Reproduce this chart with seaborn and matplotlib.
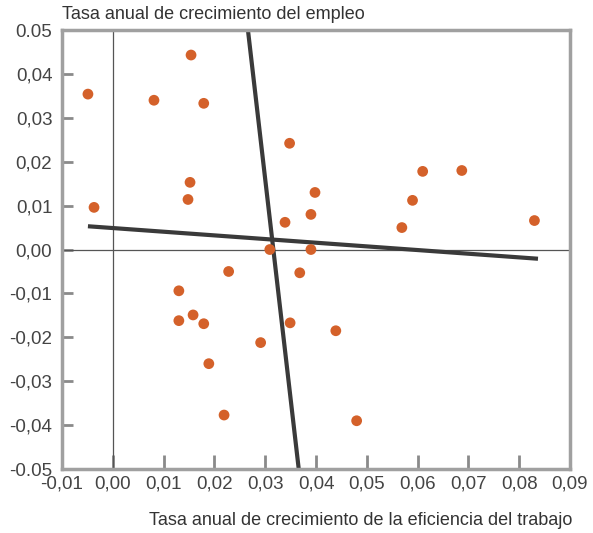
import matplotlib
matplotlib.use("Agg")
import matplotlib.pyplot as plt
import seaborn as sns
import pandas as pd

# Data
eficiencia = [-0.0049, -0.0037, 0.0081, 0.0154, 0.0179, 0.0152, 0.0148, 0.0348, 0.0339, 0.0309,
              0.0610, 0.0687, 0.0398, 0.0390, 0.0590, 0.0569, 0.0830, 0.0390, 0.0228, 0.0368,
              0.0130, 0.0130, 0.0158, 0.0179, 0.0189, 0.0219, 0.0291, 0.0349, 0.0439, 0.0480]
empleo = [0.0354, 0.0096, 0.0340, 0.0443, 0.0333, 0.0153, 0.0114, 0.0242, 0.0062, 0.0000,
          0.0178, 0.0180, 0.0130, 0.0080, 0.0112, 0.0050, 0.0066, 0.0000, -0.0050, -0.0053,
          -0.0094, -0.0162, -0.0149, -0.0169, -0.0260, -0.0377, -0.0212, -0.0167, -0.0185, -0.0390]

line1_x = [-0.0049, 0.0837]
line1_y = [0.0053, -0.0021]
line2_x = [0.0266, 0.0366]
line2_y = [0.0500, -0.0500]

xticks = [-0.01, 0.00, 0.01, 0.02, 0.03, 0.04, 0.05, 0.06, 0.07, 0.08, 0.09]
xticklabels = ["-0,01", "0,00", "0,01", "0,02", "0,03", "0,04", "0,05", "0,06", "0,07", "0,08", "0,09"]
yticks = [-0.05, -0.04, -0.03, -0.02, -0.01, 0.00, 0.01, 0.02, 0.03, 0.04, 0.05]
yticklabels = ["-0.05", "-0,04", "-0,03", "-0,02", "-0,01", "0,00", "0,01", "0,02", "0,03", "0,04", "0.05"]

sns.set_style("white")
plt.rcParams['font.family'] = ['Liberation Sans', 'DejaVu Sans']

fig = plt.figure(figsize=(5.93, 5.33), dpi=100)
ax = fig.add_axes([0.1046, 0.120, 0.8566, 0.8237])

df = pd.DataFrame({"x": eficiencia, "y": empleo})

ax.axhline(0, color="#555555", lw=0.9, zorder=1)
ax.axvline(0, color="#555555", lw=0.9, zorder=1)
ax.plot(line1_x, line1_y, color="#3a3a3a", lw=3, solid_capstyle="butt", zorder=2)
ax.plot(line2_x, line2_y, color="#3a3a3a", lw=3, solid_capstyle="butt", zorder=2)
sns.scatterplot(data=df, x="x", y="y", ax=ax, color="#d4612a", s=60, edgecolor="none", zorder=3)

ax.set_xlim(-0.01, 0.09)
ax.set_ylim(-0.05, 0.05)
ax.set_xticks(xticks)
ax.set_xticklabels(xticklabels)
ax.set_yticks(yticks)
ax.set_yticklabels(yticklabels)
ax.set_xlabel("")
ax.set_ylabel("")

for s in ax.spines.values():
    s.set_visible(True)
    s.set_color("#a0a0a0")
    s.set_linewidth(2.5)

ax.tick_params(axis="x", direction="in", length=10, width=2, color="#8a8a8a",
               labelsize=13.5, labelcolor="#444444", pad=5, bottom=True)
ax.tick_params(axis="y", direction="in", length=8, width=2, color="#8a8a8a",
               labelsize=13.5, labelcolor="#444444", pad=7, left=True)

fig.text(0.1046, 0.972, "Tasa anual de crecimiento del empleo", fontsize=13,
         color="#333333", ha="left", va="center")
fig.text(0.965, 0.024, "Tasa anual de crecimiento de la eficiencia del trabajo", fontsize=13,
         color="#333333", ha="right", va="center")

fig.savefig("out.png", dpi=100)
